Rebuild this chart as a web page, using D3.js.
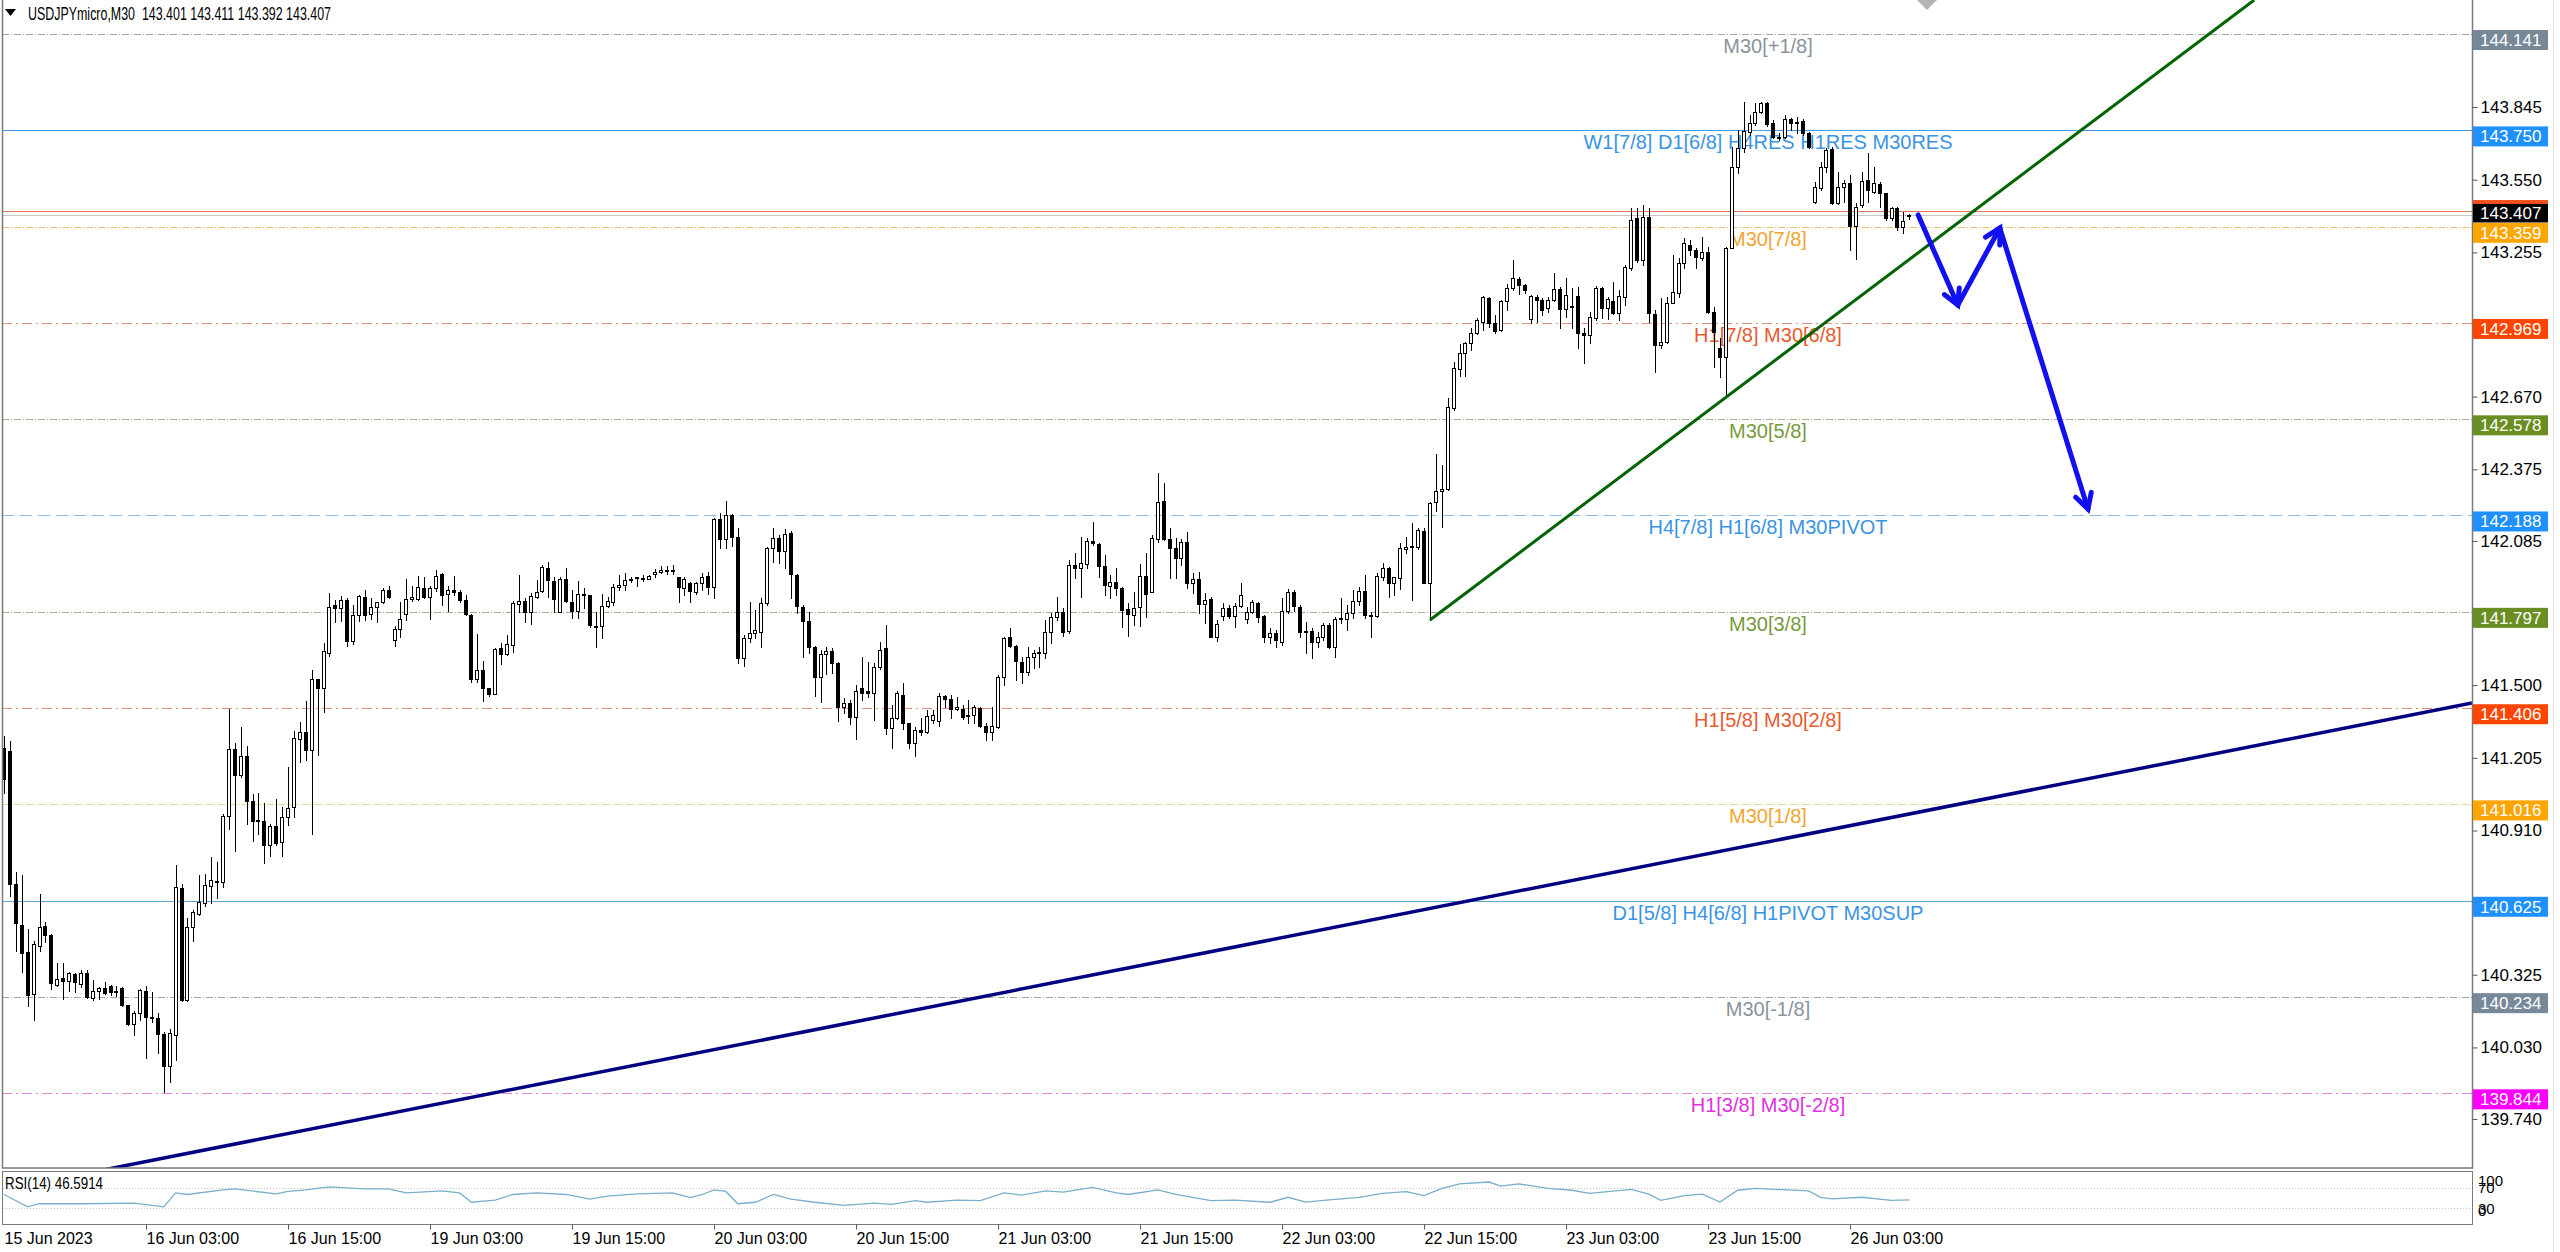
<!DOCTYPE html>
<html><head><meta charset="utf-8">
<script src="https://cdn.jsdelivr.net/npm/d3@7"></script>
<style>html,body{margin:0;padding:0;background:#fff;overflow:hidden}</style>
</head><body>
<svg id="c" width="2560" height="1252"></svg>
<script>
// ---------------- DATA ----------------
const symbolTitle = "USDJPYmicro,M30  143.401 143.411 143.392 143.407";
const rsiTitle = "RSI(14) 46.5914";

const opens = [
141.245,141.231,140.693,140.526,140.417,140.246,140.442,140.523,140.488,140.285,
140.313,140.299,140.327,140.288,140.330,140.232,140.260,140.270,140.278,140.255,
140.270,140.202,140.127,140.169,140.260,140.155,140.148,140.083,139.956,140.081,
140.675,140.221,140.519,140.572,140.617,140.686,140.702,140.700,140.970,141.241,
141.134,141.213,141.029,140.952,140.949,140.850,140.928,140.864,140.966,141.004,
141.283,141.308,141.236,141.525,141.490,141.632,141.825,141.811,141.846,141.679,
141.783,141.856,141.790,141.818,141.839,141.884,141.683,141.728,141.790,141.850,
141.850,141.895,141.856,141.895,141.951,141.870,141.884,141.878,141.846,141.783,
141.525,141.560,141.487,141.465,141.649,141.626,141.663,141.829,141.842,141.798,
141.859,141.883,141.974,141.922,141.798,141.930,141.838,141.801,141.865,141.865,
141.741,141.740,141.821,141.838,141.897,141.906,141.926,141.933,141.932,141.930,
141.949,141.957,141.964,141.964,141.937,141.893,141.913,141.879,141.916,141.944,
141.897,142.172,142.091,142.190,142.099,141.609,141.690,141.710,141.717,141.832,
142.055,142.095,142.045,142.116,141.947,141.818,141.760,141.653,141.534,141.626,
141.640,141.591,141.412,141.429,141.372,141.487,141.475,141.467,141.572,141.649,
141.325,141.365,141.460,141.345,141.264,141.318,141.311,141.358,141.356,141.456,
141.442,141.402,141.404,141.379,141.379,141.408,141.334,141.311,141.328,141.531,
141.693,141.658,141.595,141.554,141.612,141.631,141.631,141.716,141.777,141.798,
141.721,141.987,141.973,141.991,142.086,142.072,141.983,141.903,141.919,141.892,
141.807,141.784,141.815,141.942,141.879,142.091,142.247,142.091,142.055,142.014,
142.082,141.915,141.929,141.829,141.848,141.696,141.781,141.811,141.781,141.822,
141.768,141.798,141.834,141.780,141.696,141.712,141.676,141.802,141.879,141.818,
141.721,141.721,141.676,141.693,141.743,141.656,141.766,141.766,141.791,141.842,
141.883,141.784,141.780,141.940,141.973,141.915,141.933,142.053,142.064,142.059,
142.126,141.913,142.244,142.288,142.294,142.623,142.781,142.849,142.886,142.927,
142.974,143.069,142.970,142.940,143.059,143.110,143.146,143.123,142.984,143.076,
143.062,143.028,143.062,143.105,143.024,143.035,143.078,142.930,142.920,142.988,
143.110,143.028,143.059,143.008,143.076,143.191,143.393,143.224,143.397,143.005,
142.880,142.893,143.051,143.089,143.214,143.285,143.265,143.231,143.258,143.015,
142.866,142.832,143.272,143.603,143.677,143.745,143.779,143.826,143.863,143.782,
143.722,143.725,143.795,143.786,143.790,143.738,143.461,143.515,143.603,143.673,
143.457,143.522,143.535,143.362,143.447,143.549,143.502,143.533,143.495,143.393,
143.434,143.360,143.401];

const highs = [
141.294,141.273,140.742,140.728,140.512,140.463,140.651,140.540,140.491,140.372,
140.372,140.337,140.330,140.344,140.344,140.305,140.274,140.295,140.285,140.281,
140.277,140.204,140.176,140.267,140.281,140.253,140.169,140.093,140.106,140.770,
140.693,140.554,140.589,140.728,140.735,140.802,140.784,140.976,141.403,141.266,
141.329,141.252,141.057,141.064,141.022,140.938,141.036,141.004,141.169,141.315,
141.350,141.434,141.563,141.525,141.669,141.874,141.846,141.860,141.853,141.825,
141.867,141.884,141.853,141.839,141.892,141.902,141.741,141.839,141.930,141.902,
141.944,141.940,141.902,141.965,141.954,141.902,141.944,141.884,141.867,141.790,
141.707,141.599,141.490,141.651,141.672,141.703,141.842,141.947,141.852,141.872,
141.926,141.987,142.001,141.940,141.940,141.974,141.886,141.924,141.893,141.865,
141.798,141.870,141.859,141.910,141.947,141.953,141.940,141.940,141.945,141.947,
141.970,141.983,141.984,141.987,141.940,141.937,141.917,141.920,141.956,141.960,
142.179,142.197,142.248,142.194,142.136,141.703,141.838,141.805,141.852,142.062,
142.136,142.109,142.132,142.126,141.949,141.825,141.798,141.659,141.642,141.656,
141.649,141.595,141.446,141.440,141.500,141.615,141.595,141.591,141.676,141.744,
141.419,141.477,141.507,141.348,141.329,141.365,141.399,141.399,141.467,141.460,
141.460,141.453,141.419,141.440,141.419,141.412,141.345,141.412,141.541,141.696,
141.730,141.662,141.615,141.656,141.642,141.656,141.764,141.791,141.858,141.811,
142.007,142.034,142.102,142.095,142.163,142.075,142.027,141.946,141.973,141.899,
141.834,141.879,141.991,142.034,142.109,142.361,142.318,142.136,142.095,142.091,
142.122,141.953,141.960,141.872,141.858,141.764,141.831,141.825,141.831,141.913,
141.818,141.845,141.838,141.784,141.730,141.723,141.852,141.888,141.885,141.825,
141.757,141.730,141.716,141.753,141.750,141.777,141.852,141.825,141.885,141.899,
141.946,141.798,141.956,141.996,141.977,141.940,142.078,142.102,142.159,142.136,
142.136,142.244,142.437,142.393,142.663,142.812,142.884,142.893,142.947,142.988,
143.078,143.076,143.001,143.062,143.127,143.224,143.157,143.127,143.082,143.082,
143.069,143.073,143.173,143.114,143.150,143.110,143.114,142.947,143.015,143.119,
143.114,143.076,143.137,143.103,143.204,143.434,143.434,143.447,143.434,143.021,
143.069,143.076,143.245,143.231,143.312,143.306,143.272,143.319,143.278,143.032,
142.907,143.276,143.684,143.752,143.867,143.813,143.860,143.867,143.867,143.792,
143.738,143.813,143.799,143.806,143.795,143.745,143.542,143.623,143.677,143.684,
143.583,143.549,143.569,143.454,143.583,143.657,143.603,143.542,143.498,143.441,
143.438,143.420,143.411];

const lows = [
141.064,140.645,140.421,140.337,140.197,140.141,140.421,140.456,140.267,140.281,
140.225,140.260,140.253,140.274,140.232,140.221,140.225,140.246,140.243,140.239,
140.197,140.123,140.079,140.141,139.988,140.134,140.009,139.848,139.890,139.981,
140.218,140.218,140.463,140.568,140.603,140.617,140.638,140.679,140.917,140.826,
141.127,140.938,140.868,140.896,140.780,140.805,140.850,140.805,140.931,140.966,
141.189,141.196,140.896,141.217,141.392,141.616,141.755,141.758,141.660,141.665,
141.758,141.762,141.769,141.755,141.832,141.853,141.658,141.693,141.762,141.842,
141.846,141.853,141.769,141.881,141.825,141.800,141.867,141.839,141.783,141.511,
141.511,141.434,141.455,141.462,141.586,141.622,141.636,141.798,141.757,141.748,
141.852,141.879,141.859,141.798,141.798,141.838,141.771,141.771,141.811,141.737,
141.656,141.690,141.815,141.825,141.886,141.886,141.920,141.902,141.924,141.930,
141.940,141.953,141.951,141.951,141.838,141.865,141.836,141.870,141.886,141.870,
141.852,142.055,142.055,142.066,141.588,141.577,141.676,141.690,141.653,141.825,
142.001,141.994,141.974,141.852,141.794,141.613,141.632,141.456,141.433,141.545,
141.548,141.356,141.388,141.342,141.280,141.440,141.450,141.358,141.564,141.302,
141.243,141.361,141.321,141.243,141.212,141.298,141.304,141.345,141.334,141.412,
141.365,141.399,141.361,141.348,141.348,141.328,141.277,141.277,141.324,141.500,
141.656,141.520,141.510,141.541,141.568,141.572,141.608,141.669,141.764,141.699,
141.712,141.933,141.858,141.973,142.068,141.940,141.865,141.852,141.865,141.737,
141.699,141.743,141.739,141.777,141.879,142.082,142.088,141.933,141.933,141.987,
141.892,141.872,141.791,141.750,141.693,141.680,141.764,141.771,141.737,141.818,
141.750,141.791,141.757,141.676,141.669,141.656,141.662,141.794,141.802,141.696,
141.631,141.608,141.656,141.683,141.649,141.615,141.750,141.723,141.771,141.825,
141.771,141.693,141.777,141.926,141.858,141.865,141.888,142.034,141.845,142.050,
141.913,141.764,142.207,142.140,142.291,142.616,142.754,142.754,142.859,142.924,
142.940,142.954,142.927,142.938,143.022,143.103,143.087,143.092,142.970,142.974,
143.001,143.015,143.059,142.947,142.995,142.947,142.866,142.805,142.886,142.981,
142.988,142.984,143.005,142.981,143.042,143.184,143.218,143.204,142.974,142.771,
142.866,142.886,143.049,143.076,143.191,143.245,143.191,143.224,143.008,142.792,
142.751,142.670,143.272,143.576,143.664,143.731,143.772,143.819,143.768,143.718,
143.711,143.718,143.752,143.738,143.731,143.677,143.454,143.508,143.583,143.452,
143.452,143.461,143.265,143.227,143.441,143.461,143.495,143.438,143.387,143.387,
143.346,143.333,143.392];

const closes = [
141.120,140.693,140.533,140.414,140.243,140.449,140.519,140.488,140.291,140.309,
140.299,140.330,140.294,140.333,140.235,140.260,140.271,140.250,140.253,140.260,
140.204,140.127,140.169,140.263,140.155,140.148,140.083,139.956,140.090,140.679,
140.221,140.519,140.579,140.619,140.691,140.710,140.707,140.970,141.241,141.134,
141.213,141.029,140.948,140.948,140.850,140.928,140.861,140.966,141.001,141.287,
141.308,141.236,141.525,141.490,141.637,141.818,141.811,141.846,141.679,141.783,
141.860,141.786,141.818,141.839,141.884,141.856,141.728,141.769,141.850,141.856,
141.898,141.856,141.895,141.944,141.867,141.884,141.877,141.846,141.788,141.525,
141.560,141.487,141.465,141.646,141.626,141.665,141.832,141.842,141.798,141.861,
141.879,141.978,141.926,141.848,141.930,141.842,141.801,141.868,141.868,141.744,
141.737,141.821,141.842,141.899,141.906,141.926,141.929,141.937,141.934,141.944,
141.960,141.967,141.967,141.967,141.897,141.930,141.883,141.913,141.940,141.897,
142.172,142.091,142.190,142.099,141.609,141.690,141.713,141.723,141.832,142.055,
142.095,142.044,142.113,141.949,141.821,141.760,141.653,141.534,141.626,141.640,
141.588,141.412,141.429,141.372,141.477,141.467,141.467,141.575,141.642,141.325,
141.365,141.467,141.348,141.264,141.318,141.311,141.375,141.379,141.456,141.442,
141.402,141.412,141.369,141.375,141.410,141.334,141.311,141.334,141.534,141.689,
141.658,141.599,141.554,141.612,141.631,141.635,141.716,141.777,141.798,141.716,
141.987,141.973,141.994,142.086,142.075,141.983,141.906,141.919,141.892,141.804,
141.788,141.811,141.942,141.869,142.095,142.244,142.091,142.055,142.014,142.082,
141.915,141.929,141.829,141.845,141.696,141.748,141.811,141.781,141.822,141.864,
141.798,141.837,141.777,141.696,141.712,141.683,141.802,141.879,141.821,141.716,
141.716,141.676,141.693,141.743,141.656,141.768,141.771,141.791,141.842,141.883,
141.784,141.780,141.942,141.973,141.915,141.937,142.055,142.059,142.059,142.129,
141.915,142.240,142.288,142.294,142.627,142.785,142.849,142.886,142.927,142.981,
143.073,142.970,142.938,143.059,143.110,143.153,143.123,143.103,143.078,143.062,
143.022,143.062,143.105,143.024,143.082,143.038,142.930,142.920,142.992,143.110,
143.028,143.065,143.008,143.078,143.195,143.387,143.224,143.397,143.008,142.880,
142.893,143.051,143.096,143.214,143.295,143.265,143.235,143.258,143.015,142.934,
142.830,143.272,143.603,143.677,143.749,143.779,143.826,143.860,143.776,143.722,
143.725,143.795,143.782,143.782,143.738,143.684,143.519,143.603,143.671,143.457,
143.522,143.535,143.362,143.438,143.546,143.508,143.535,143.495,143.393,143.434,
143.360,143.384,143.407];

// RSI(14): [bar index, value]
const rsiPoints = [
[0,56.9],[4,33.0],[6,39.0],[13,39.0],[22,40.1],[27,33.0],[29,59.9],[31,56.9],[37,65.8],[39,67.6],
[46,58.1],[48,62.8],[51,65.8],[55,71.8],[61,67.6],[65,67.6],[68,59.9],[74,64.0],[77,59.9],[79,41.9],
[83,46.1],[86,56.9],[90,59.9],[95,56.9],[99,47.9],[102,53.9],[107,58.1],[113,59.9],[116,50.9],[118,56.9],
[120,65.8],[122,62.8],[124,39.0],[127,41.9],[130,56.9],[133,47.9],[137,41.9],[142,36.0],[147,40.1],[150,37.8],
[154,44.9],[156,41.9],[161,46.1],[165,44.9],[169,59.9],[172,55.7],[176,64.0],[179,61.6],[184,70.6],[188,59.9],
[190,56.9],[195,65.8],[198,56.9],[204,44.9],[208,46.1],[214,41.9],[217,51.5],[220,42.3],[223,45.4],[229,51.5],
[233,58.9],[237,62.6],[240,54.6],[243,68.7],[246,77.4],[251,81.0],[253,73.1],[256,77.4],[261,68.7],[265,65.1],
[268,58.9],[271,62.6],[275,66.9],[278,57.7],[280,45.4],[284,54.6],[287,57.7],[290,42.3],[293,65.1],[296,68.7],
[305,63.8],[307,51.5],[309,48.5],[314,51.5],[319,45.4],[322,46.6]];
const rsiLevels = [70, 30];
const rsiTickValues = [100, 70, 30, 0];

// Murrey-math levels
const levelPrices = [144.141,143.750,143.359,142.969,142.578,142.188,141.797,141.406,141.016,140.625,140.234,139.844];
const levelNames = ["M30[+1/8]","W1[7/8] D1[6/8] H4RES H1RES M30RES","M30[7/8]","H1[7/8] M30[6/8]","M30[5/8]",
  "H4[7/8] H1[6/8] M30PIVOT","M30[3/8]","H1[5/8] M30[2/8]","M30[1/8]","D1[5/8] H4[6/8] H1PIVOT M30SUP","M30[-1/8]","H1[3/8] M30[-2/8]"];
const bidPrice = 143.407;
const redLinePrice = 143.425;

// price axis ticks (the ones hidden behind level labels keep only their tick mark)
const priceTicks = [144.140,143.845,143.550,143.255,142.960,142.670,142.375,142.085,141.790,141.500,141.205,140.910,140.620,140.325,140.030,139.740];
const hiddenPriceTicks = [144.140,142.960,141.790,140.620];
// time axis
const timeTickBars = [0,24,48,72,96,120,144,168,192,216,240,264,288,312];
const timeTickLabels = ["15 Jun 2023","16 Jun 03:00","16 Jun 15:00","19 Jun 03:00","19 Jun 15:00","20 Jun 03:00","20 Jun 15:00",
  "21 Jun 03:00","21 Jun 15:00","22 Jun 03:00","22 Jun 15:00","23 Jun 03:00","23 Jun 15:00","26 Jun 03:00"];

// drawn objects in (bar index, price)
const greenTrend = [[241,141.764],[380.3,144.279]];
const navyTrend = [[17.2,139.535],[417.1,141.427]];
const arrowPoints = [[323.5,143.407],[330.2,143.042],[337.3,143.354],[352.2,142.214]];

// ---------------- LAYOUT / STYLE ----------------
const FONT = '"Liberation Sans", Arial, sans-serif';
const L = 2, R = 2472, mainTop = 0, mainBottom = 1168, rsiTopY = 1171, rsiBottomY = 1224;
const labelCenterX = 1768;
const levelStyles = [
 {line:'#a4a4a4', dash:'7,2,1,2', box:'#778899', text:'#8a939c'},
 {line:'#3e9cf0', dash:null,       box:'#1e90ff', text:'#3b93e4'},
 {line:'#eec470', dash:'7,2,1,2', box:'#ffa500', text:'#f0a630'},
 {line:'#e0907a', dash:'10,4,2,4',box:'#ff4500', text:'#e85a30'},
 {line:'#a6ae8c', dash:'7,2,1,2', box:'#6b8e23', text:'#789a3c'},
 {line:'#8cbde0', dash:'12,6',    box:'#1e90ff', text:'#3b93e4'},
 {line:'#a6ae8c', dash:'7,2,1,2', box:'#6b8e23', text:'#789a3c'},
 {line:'#e0907a', dash:'10,4,2,4',box:'#ff4500', text:'#e85a30'},
 {line:'#e6d890', dash:'7,2,1,2', box:'#ffa500', text:'#f0a630'},
 {line:'#5aa8d0', dash:null,       box:'#1e90ff', text:'#3b93e4'},
 {line:'#a4a4a4', dash:'7,2,1,2', box:'#778899', text:'#8a939c'},
 {line:'#dc88dc', dash:'10,4,2,4',box:'#ff00ff', text:'#e030e0'}
];

// ---------------- SCALES ----------------
const N = closes.length;
const x = d3.scaleLinear().domain([0, 322]).range([4, 4 + 322 * 5.917]);
const y = d3.scaleLinear().domain([139.541, 144.279]).range([mainBottom, mainTop]);
const ry = d3.scaleLinear().domain([0, 100]).range([1223.9, 1172.2]);

const svg = d3.select('#c');
svg.append('rect').attr('width', 2560).attr('height', 1252).attr('fill', '#fff');
const defs = svg.append('defs');
defs.append('clipPath').attr('id', 'mainClip').append('rect')
  .attr('x', L).attr('y', mainTop).attr('width', R - L).attr('height', mainBottom - mainTop);

const gMain = svg.append('g').attr('clip-path', 'url(#mainClip)');
const py = p => Math.round(y(p)) + 0.5;

// level lines
gMain.selectAll('line.lvl').data(levelPrices).join('line').attr('class', 'lvl')
  .attr('x1', L).attr('x2', R).attr('y1', d => py(d)).attr('y2', d => py(d))
  .attr('stroke', (d, i) => levelStyles[i].line).attr('stroke-width', 1)
  .attr('stroke-dasharray', (d, i) => levelStyles[i].dash);
gMain.append('line').attr('x1', L).attr('x2', R).attr('y1', py(redLinePrice)).attr('y2', py(redLinePrice))
  .attr('stroke', '#e07a5a').attr('stroke-width', 1);
gMain.append('line').attr('x1', L).attr('x2', R).attr('y1', py(bidPrice)).attr('y2', py(bidPrice))
  .attr('stroke', '#c8c8c8').attr('stroke-width', 1);

// level names
gMain.selectAll('text.lvl').data(levelPrices).join('text').attr('class', 'lvl')
  .attr('x', labelCenterX).attr('y', d => y(d) + 19).attr('text-anchor', 'middle')
  .attr('font-family', FONT).attr('font-size', 20).attr('fill', (d, i) => levelStyles[i].text)
  .text((d, i) => levelNames[i]);

// candles
const idx = d3.range(N);
const gC = gMain.append('g');
gC.selectAll('line.wick').data(idx).join('line').attr('class', 'wick')
  .attr('x1', i => Math.round(x(i)) + 0.5).attr('x2', i => Math.round(x(i)) + 0.5)
  .attr('y1', i => Math.round(y(highs[i]))).attr('y2', i => Math.round(y(lows[i])) + 1)
  .attr('stroke', '#000').attr('stroke-width', 1);
gC.selectAll('rect.body').data(idx).join('rect').attr('class', 'body')
  .attr('x', i => Math.round(x(i)) - 1.5).attr('width', 3)
  .attr('y', i => Math.round(y(Math.max(opens[i], closes[i]))) + 0.5)
  .attr('height', i => Math.max(1, Math.round(y(Math.min(opens[i], closes[i]))) - Math.round(y(Math.max(opens[i], closes[i])))))
  .attr('fill', i => closes[i] < opens[i] ? '#000' : '#fff')
  .attr('stroke', '#000').attr('stroke-width', 1);

// trend lines
const tl = d3.line().x(d => x(d[0])).y(d => y(d[1]));
gMain.append('path').attr('d', tl(navyTrend)).attr('stroke', '#000080').attr('stroke-width', 3.5).attr('fill', 'none');
gMain.append('path').attr('d', tl(greenTrend)).attr('stroke', '#006400').attr('stroke-width', 3).attr('fill', 'none');

// arrows
const gA = gMain.append('g');
for (let k = 0; k < arrowPoints.length - 1; k++) {
  const p0 = [x(arrowPoints[k][0]), y(arrowPoints[k][1])];
  const p1 = [x(arrowPoints[k + 1][0]), y(arrowPoints[k + 1][1])];
  gA.append('path').attr('d', d3.line()([p0, p1])).attr('stroke', '#1010f0').attr('stroke-width', 5)
    .attr('fill', 'none').attr('stroke-linecap', 'round');
  const th = Math.atan2(p1[1] - p0[1], p1[0] - p0[0]);
  const hl = 17, sp = 0.5;
  const h1 = [p1[0] - hl * Math.cos(th - sp), p1[1] - hl * Math.sin(th - sp)];
  const h2 = [p1[0] - hl * Math.cos(th + sp), p1[1] - hl * Math.sin(th + sp)];
  gA.append('path').attr('d', d3.line()([h1, p1, h2])).attr('stroke', '#1010f0').attr('stroke-width', 5)
    .attr('fill', 'none').attr('stroke-linejoin', 'miter').attr('stroke-linecap', 'round');
}

// chart-shift marker
svg.append('path').attr('d', 'M1917,0 L1937,0 L1927,10 Z').attr('fill', '#b4b4b4');

// frames
svg.append('rect').attr('x', L + 0.5).attr('y', -1).attr('width', R - L).attr('height', mainBottom + 1)
  .attr('fill', 'none').attr('stroke', '#7a7a7a').attr('stroke-width', 1.5);
svg.append('rect').attr('x', L + 0.5).attr('y', rsiTopY + 0.5).attr('width', R - L).attr('height', rsiBottomY - rsiTopY)
  .attr('fill', 'none').attr('stroke', '#7a7a7a').attr('stroke-width', 1);
svg.append('line').attr('x1', 2553.5).attr('x2', 2553.5).attr('y1', 0).attr('y2', 1252).attr('stroke', '#e0e0e0');

// price axis
const yAxis = d3.axisRight(y).tickValues(priceTicks)
  .tickFormat(d => hiddenPriceTicks.includes(d) ? '' : d3.format('.3f')(d)).tickSize(5).tickPadding(3);
const gY = svg.append('g').attr('transform', `translate(${R + 0.5},0)`).call(yAxis);
gY.select('.domain').remove();
gY.selectAll('line').attr('stroke', '#555');
gY.selectAll('text').attr('font-family', FONT).attr('font-size', 17).attr('fill', '#000');

// price labels (boxes)
const gLab = svg.append('g');
const boxes = levelPrices.map((p, i) => ({p, col: levelStyles[i].box}));
gLab.selectAll('rect').data(boxes).join('rect')
  .attr('x', R + 1).attr('width', 75).attr('y', d => y(d.p) - 4).attr('height', 20).attr('fill', d => d.col);
gLab.selectAll('text').data(boxes).join('text')
  .attr('x', R + 8).attr('y', d => y(d.p) + 6).attr('dy', '0.35em')
  .attr('font-family', FONT).attr('font-size', 17).attr('fill', '#fff').text(d => d.p.toFixed(3));
svg.append('rect').attr('x', R + 1).attr('width', 75).attr('y', y(redLinePrice) - 10.5).attr('height', 20).attr('fill', '#f0501e');
svg.append('rect').attr('x', R + 1).attr('width', 75).attr('y', y(bidPrice) - 11).attr('height', 18.5).attr('fill', '#000');
svg.append('text').attr('x', R + 8).attr('y', y(bidPrice) - 1.8).attr('dy', '0.35em')
  .attr('font-family', FONT).attr('font-size', 17).attr('fill', '#fff').text(bidPrice.toFixed(3));

// time axis
const xAxis = d3.axisBottom(x).tickValues(timeTickBars).tickFormat((d, i) => timeTickLabels[i]).tickSize(5).tickPadding(4);
const gX = svg.append('g').attr('transform', `translate(0,${rsiBottomY + 0.5})`).call(xAxis);
gX.select('.domain').remove();
gX.selectAll('line').attr('stroke', '#555');
gX.selectAll('text').attr('font-family', FONT).attr('font-size', 16).attr('fill', '#000')
  .attr('text-anchor', 'start').attr('x', 0).attr('y', 14).attr('dy', '0.35em');
gX.selectAll('.tick').filter((d, i) => i === 0).select('line').remove();

// header
svg.append('path').attr('d', 'M5,9 L16,9 L10.5,16 Z').attr('fill', '#000');
svg.append('text').attr('x', 28).attr('y', 20).attr('font-family', FONT).attr('font-size', 18.5)
  .attr('textLength', 303).attr('lengthAdjust', 'spacingAndGlyphs')
  .attr('fill', '#000').style('white-space', 'pre').text(symbolTitle);

// RSI panel
const gR = svg.append('g');
gR.selectAll('line.lv').data(rsiLevels).join('line').attr('class', 'lv')
  .attr('x1', L + 1).attr('x2', R).attr('y1', d => Math.round(ry(d)) + 0.5).attr('y2', d => Math.round(ry(d)) + 0.5)
  .attr('stroke', '#c4c4c4').attr('stroke-dasharray', '1,2');
const rl = d3.line().x(d => x(d[0])).y(d => ry(d[1]));
gR.append('path').attr('d', rl(rsiPoints)).attr('fill', 'none').attr('stroke', '#78afcb').attr('stroke-width', 1.3);
gR.append('text').attr('x', 5).attr('y', 1189).attr('font-family', FONT).attr('font-size', 17)
  .attr('textLength', 98).attr('lengthAdjust', 'spacingAndGlyphs').attr('fill', '#000').text(rsiTitle);
gR.selectAll('text.rt').data(rsiTickValues).join('text').attr('class', 'rt')
  .attr('x', R + 6).attr('y', d => Math.min(1211, Math.max(1181, ry(d)))).attr('dy', '0.35em')
  .attr('font-family', FONT).attr('font-size', 15).attr('fill', '#000').text(d => d);
</script>
</body></html>
